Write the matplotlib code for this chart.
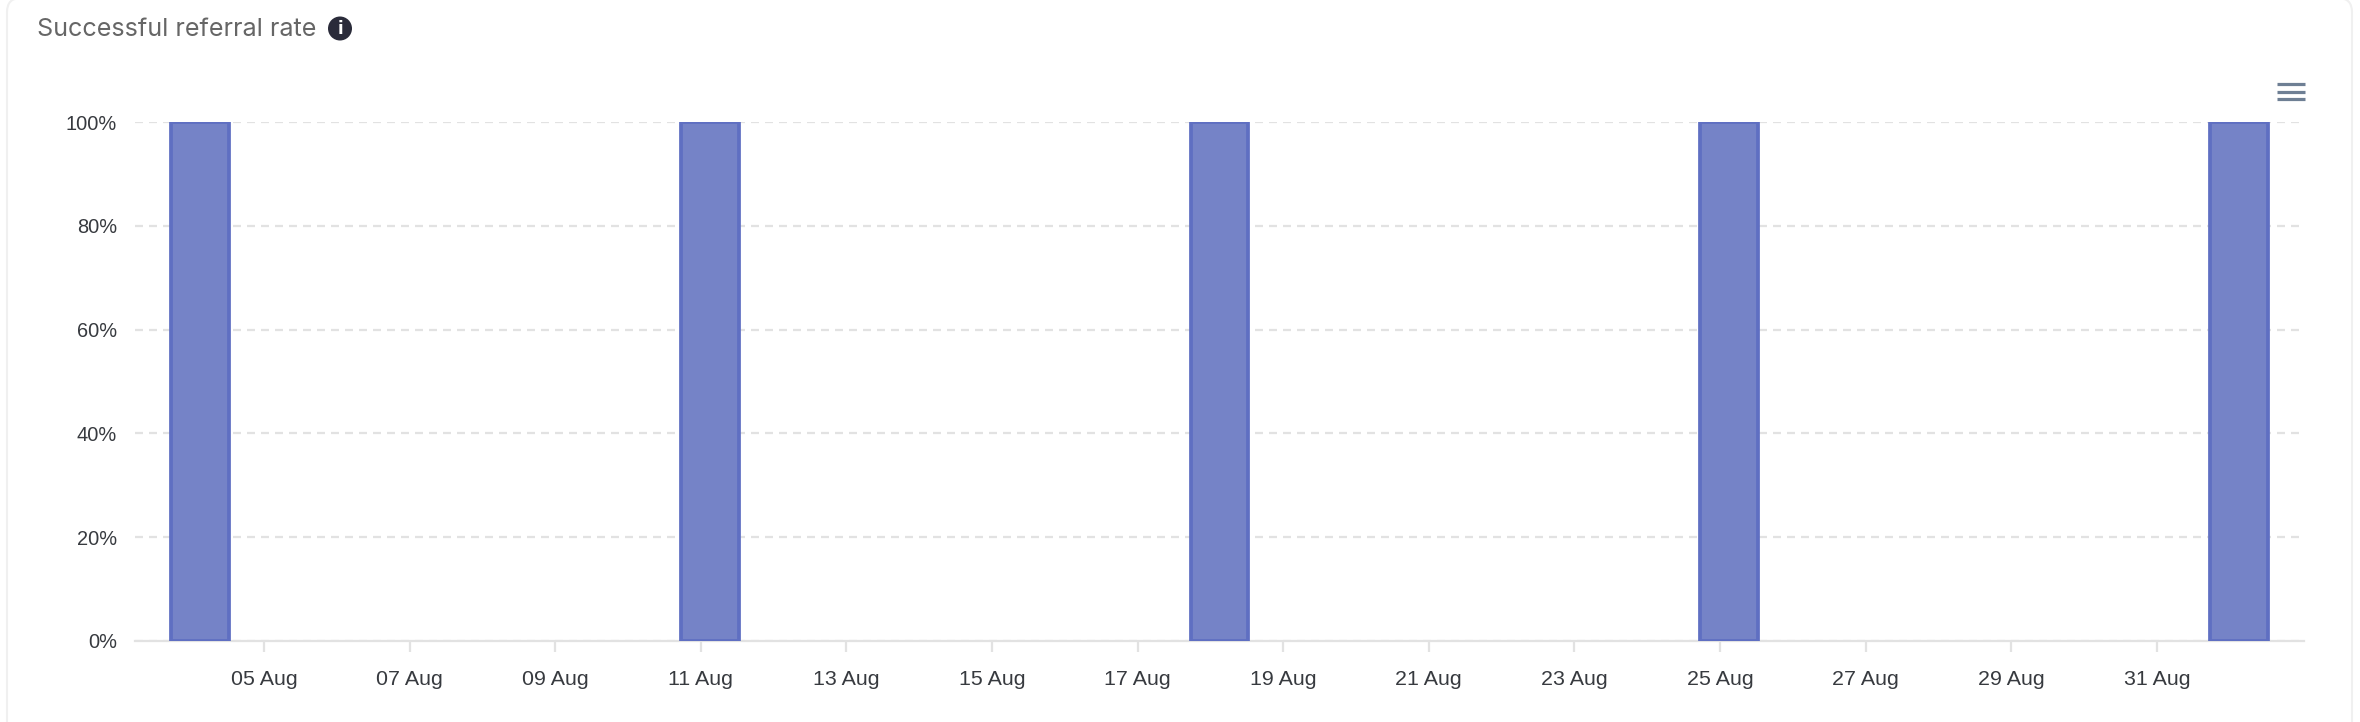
# =============================================================================
# SUCCESSFUL REFERRAL RATE
# =============================================================================
import matplotlib
matplotlib.use("Agg")
import matplotlib.dates as mdates
import matplotlib.pyplot as plt
import pandas as pd
from matplotlib.patches import Circle, FancyBboxPatch

# =============================================================================
# DATA
# =============================================================================

BAR_DATES = ["2023-08-04 03:00", "2023-08-11 03:00", "2023-08-18 03:00",
             "2023-08-25 03:00", "2023-09-01 03:00"]
BAR_VALUES = [100, 100, 100, 100, 100]

TICK_DATES = ["2023-08-05", "2023-08-07", "2023-08-09", "2023-08-11", "2023-08-13",
              "2023-08-15", "2023-08-17", "2023-08-19", "2023-08-21", "2023-08-23",
              "2023-08-25", "2023-08-27", "2023-08-29", "2023-08-31"]
Y_TICKS = [0, 20, 40, 60, 80, 100]

TITLE = "Successful referral rate"

# =============================================================================
# CONFIG
# =============================================================================

W, H = 2360, 722
AX_LEFT, AX_RIGHT, AX_TOP, AX_BOTTOM = 135, 2304, 122, 641

BAR_FILL = "#7583C7"
BAR_EDGE = "#5F6FC2"
GRID = "#E2E2E2"
LABEL = "#373A3F"

plt.rcParams["font.family"] = ["Liberation Sans", "DejaVu Sans"]

fig = plt.figure(figsize=(W / 100, H / 100), dpi=100, facecolor="white")

# pixel overlay for card border and icons
bg = fig.add_axes([0, 0, 1, 1], zorder=0)
bg.set_xlim(0, W)
bg.set_ylim(H, 0)
bg.axis("off")
bg.add_patch(FancyBboxPatch((7, -2), 2345, 790, boxstyle="round,pad=0,rounding_size=14",
                            fc="white", ec="#F0F0F0", lw=1.5))
bg.text(37, 30, TITLE, family="Inter", fontsize=18.1, color="#666666", va="center", ha="left")
bg.add_patch(Circle((340, 28.5), 12, fc="#2A2B3A", ec="none"))
bg.text(340, 29, "i", family="DejaVu Sans", fontsize=12, fontweight="bold",
        color="white", ha="center", va="center")
for y in [84, 91.5, 99]:
    bg.plot([2277, 2305], [y, y], color="#6E7F94", lw=2.3, solid_capstyle="butt")

# =============================================================================
# CHART
# =============================================================================

ax = fig.add_axes([AX_LEFT / W, 1 - AX_BOTTOM / H,
                   (AX_RIGHT - AX_LEFT) / W, (AX_BOTTOM - AX_TOP) / H], zorder=1)
ax.patch.set_alpha(0)

x = mdates.date2num(pd.to_datetime(BAR_DATES))
ax.bar(x, BAR_VALUES, width=0.79, color=BAR_FILL, edgecolor=BAR_EDGE, linewidth=2.7, zorder=3)

ax.set_xlim(mdates.date2num(pd.Timestamp("2023-08-03 05:30")),
            mdates.date2num(pd.Timestamp("2023-09-02 00:30")))
ax.set_ylim(0, 100)

ticks = pd.to_datetime(TICK_DATES)
ax.set_xticks(mdates.date2num(ticks))
ax.set_xticklabels([t.strftime("%d %b") for t in ticks])
ax.set_yticks(Y_TICKS)
ax.set_yticklabels([f"{v}%" for v in Y_TICKS])

ax.tick_params(axis="x", length=8, width=1.6, color=GRID, labelsize=15.4, labelcolor=LABEL, pad=13)
ax.tick_params(axis="y", length=0, labelsize=14.4, labelcolor=LABEL, pad=13)

ax.grid(axis="y", color=GRID, linewidth=1.6, linestyle=(0, (3.6, 2.7)), zorder=1)
ax.set_axisbelow(True)
for name in ["top", "right", "left"]:
    ax.spines[name].set_visible(False)
ax.spines["bottom"].set_color(GRID)
ax.spines["bottom"].set_linewidth(1.6)

fig.savefig("out.png", dpi=100)
